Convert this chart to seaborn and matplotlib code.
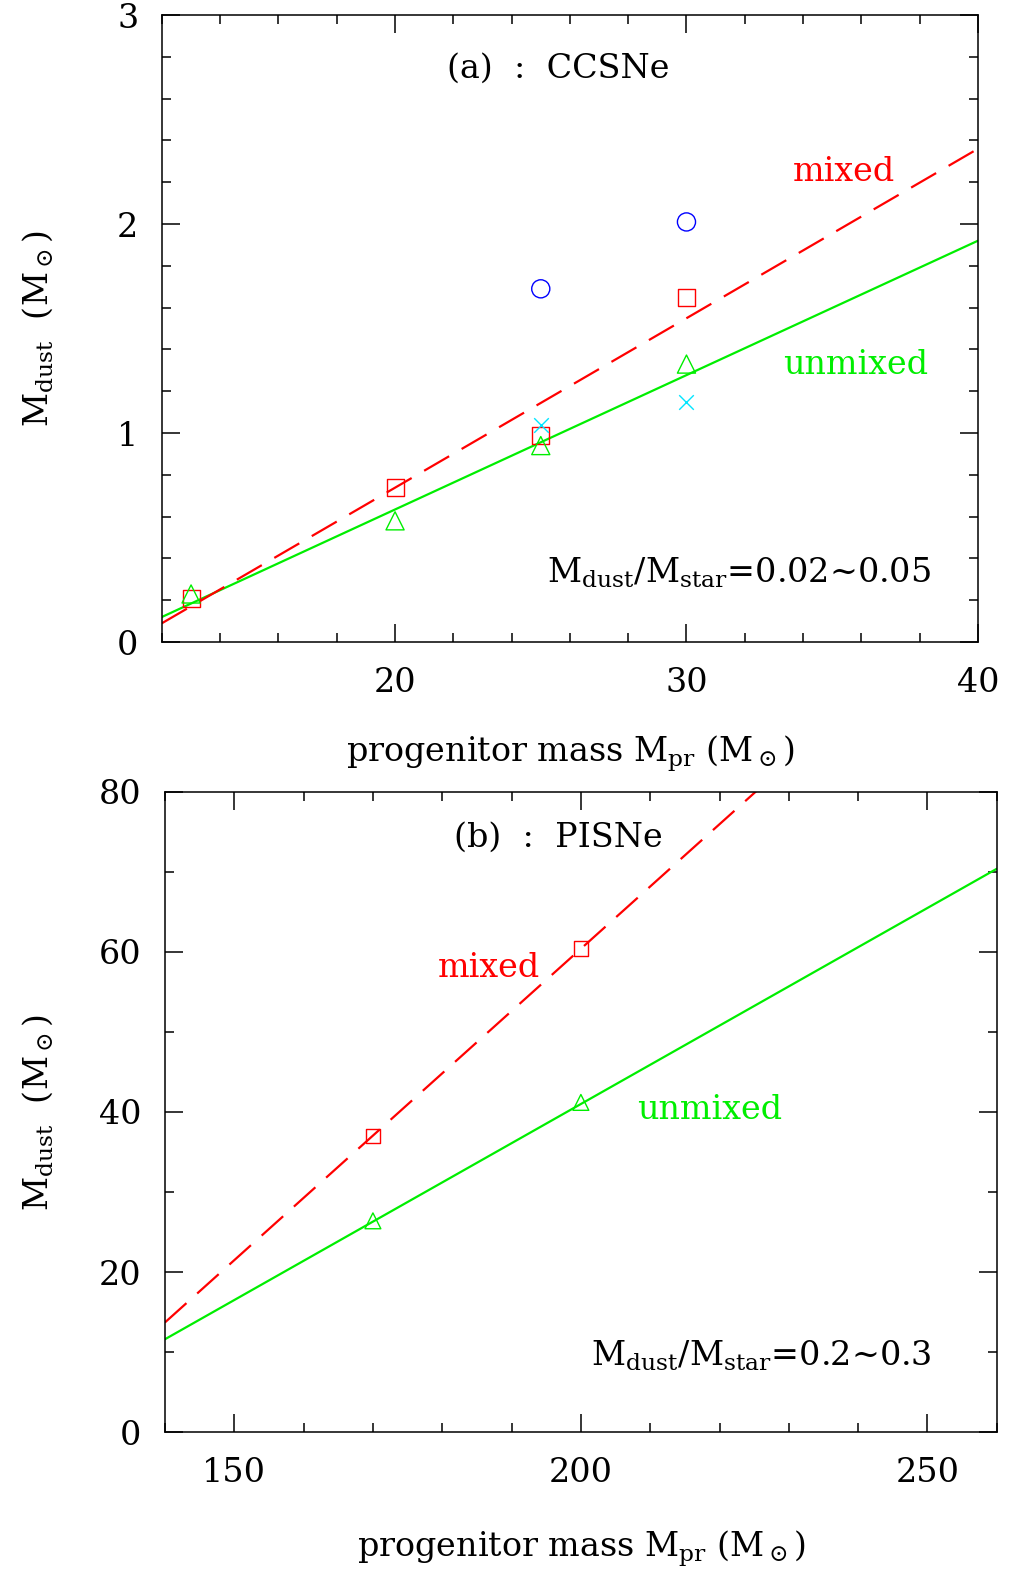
import matplotlib
matplotlib.use("Agg")
import matplotlib.pyplot as plt
import seaborn as sns
from matplotlib.ticker import MultipleLocator

# ---- data ----
ccsn_mass = [13, 20, 25, 30]
ccsn_mixed = [0.21, 0.74, 0.99, 1.65]
ccsn_unmixed = [0.23, 0.58, 0.94, 1.33]
ccsn_circle_mass = [25, 30]
ccsn_circle = [1.69, 2.01]
ccsn_cross_mass = [25, 30]
ccsn_cross = [1.04, 1.15]
ccsn_fit_mass = [12, 40]
ccsn_mixed_fit = [0.09, 2.36]
ccsn_unmixed_fit = [0.12, 1.92]

pisn_mass = [170, 200]
pisn_mixed = [37.0, 60.4]
pisn_unmixed = [26.4, 41.2]
pisn_fit_mass = [140, 260]
pisn_mixed_fit = [13.7, 107.1]
pisn_unmixed_fit = [11.6, 70.4]

RED = "#ff0000"
GREEN = "#00ee00"
BLUE = "#0000ff"
CYAN = "#00e5ff"

sns.set_style("ticks")
plt.rcParams["font.family"] = ["DejaVu Serif"]
plt.rcParams["mathtext.fontset"] = "dejavuserif"
plt.rcParams["text.color"] = "black"
plt.rcParams["axes.labelcolor"] = "black"
plt.rcParams["xtick.color"] = "black"
plt.rcParams["ytick.color"] = "black"

fig = plt.figure(figsize=(10.12, 15.81), dpi=100)
ax1 = fig.add_axes([0.160, 0.5939, 0.8063, 0.3966])
ax2 = fig.add_axes([0.163, 0.0942, 0.822, 0.4049])

FS = 24
DASH = (0, (13, 6.5))
XLAB = r"progenitor mass M$_{\rm pr}$ (M$_\odot$)"
YLAB = r"M$_{\rm dust}$  (M$_\odot$)"


def style(ax, xmaj, xmin, ymaj, ymin):
    ax.xaxis.set_major_locator(MultipleLocator(xmaj))
    ax.xaxis.set_minor_locator(MultipleLocator(xmin))
    ax.yaxis.set_major_locator(MultipleLocator(ymaj))
    ax.yaxis.set_minor_locator(MultipleLocator(ymin))
    ax.tick_params(which="both", direction="in", top=True, right=True,
                   colors="black", width=1.1)
    ax.tick_params(which="major", length=13, labelsize=FS)
    ax.tick_params(which="minor", length=6.5)
    ax.tick_params(axis="x", which="major", pad=18)
    ax.tick_params(axis="y", which="major", pad=17)
    for s in ax.spines.values():
        s.set_linewidth(1.1)
        s.set_color("black")


# ---------- panel (a) ----------
sns.lineplot(x=ccsn_fit_mass, y=ccsn_unmixed_fit, ax=ax1, color=GREEN, lw=1.6)
sns.lineplot(x=ccsn_fit_mass, y=ccsn_mixed_fit, ax=ax1, color=RED, lw=1.6,
             linestyle=DASH)
sns.scatterplot(x=ccsn_mass, y=ccsn_mixed, ax=ax1, marker="s", s=150,
                facecolor="none", edgecolor=RED, linewidth=1.0, zorder=5)
sns.scatterplot(x=ccsn_mass, y=ccsn_unmixed, ax=ax1, marker="^", s=170,
                facecolor="none", edgecolor=GREEN, linewidth=1.0, zorder=5)
sns.scatterplot(x=ccsn_circle_mass, y=ccsn_circle, ax=ax1, marker="o", s=170,
                facecolor="none", edgecolor=BLUE, linewidth=1.0, zorder=5)
sns.scatterplot(x=ccsn_cross_mass, y=ccsn_cross, ax=ax1, marker="x", s=110,
                color=CYAN, linewidth=1.0, zorder=5)
ax1.set_xlim(12, 40)
ax1.set_ylim(0, 3)
style(ax1, 10, 2, 1, 0.2)
ax1.set_xlabel(XLAB, fontsize=FS)
ax1.set_ylabel(YLAB, fontsize=FS)
ax1.xaxis.set_label_coords(0.5, -0.146)
ax1.yaxis.set_label_coords(-0.131, 0.5)
ax1.text(25.6, 2.745, "(a)  :  CCSNe", fontsize=FS, ha="center", va="center")
ax1.text(35.4, 2.247, "mixed", fontsize=FS, color=RED, ha="center", va="center")
ax1.text(35.8, 1.325, "unmixed", fontsize=FS, color=GREEN, ha="center",
         va="center")
ax1.text(31.8, 0.33, r"M$_{\rm dust}$/M$_{\rm star}$=0.02~0.05", fontsize=FS,
         ha="center", va="center")

# ---------- panel (b) ----------
sns.lineplot(x=pisn_fit_mass, y=pisn_unmixed_fit, ax=ax2, color=GREEN, lw=1.6)
sns.lineplot(x=pisn_fit_mass, y=pisn_mixed_fit, ax=ax2, color=RED, lw=1.6,
             linestyle=DASH)
sns.scatterplot(x=pisn_mass, y=pisn_mixed, ax=ax2, marker="s", s=110,
                facecolor="none", edgecolor=RED, linewidth=1.0, zorder=5)
sns.scatterplot(x=pisn_mass, y=pisn_unmixed, ax=ax2, marker="^", s=130,
                facecolor="none", edgecolor=GREEN, linewidth=1.0, zorder=5)
ax2.set_xlim(140, 260)
ax2.set_ylim(0, 80)
style(ax2, 50, 10, 20, 10)
ax2.set_xlabel(XLAB, fontsize=FS)
ax2.set_ylabel(YLAB, fontsize=FS)
ax2.xaxis.set_label_coords(0.5, -0.150)
ax2.yaxis.set_label_coords(-0.132, 0.5)
ax2.text(196.8, 74.3, "(b)  :  PISNe", fontsize=FS, ha="center", va="center")
ax2.text(186.8, 58.0, "mixed", fontsize=FS, color=RED, ha="center", va="center")
ax2.text(218.5, 40.25, "unmixed", fontsize=FS, color=GREEN, ha="center",
         va="center")
ax2.text(226.0, 9.5, r"M$_{\rm dust}$/M$_{\rm star}$=0.2~0.3", fontsize=FS,
         ha="center", va="center")

fig.savefig("out.png", dpi=100)
